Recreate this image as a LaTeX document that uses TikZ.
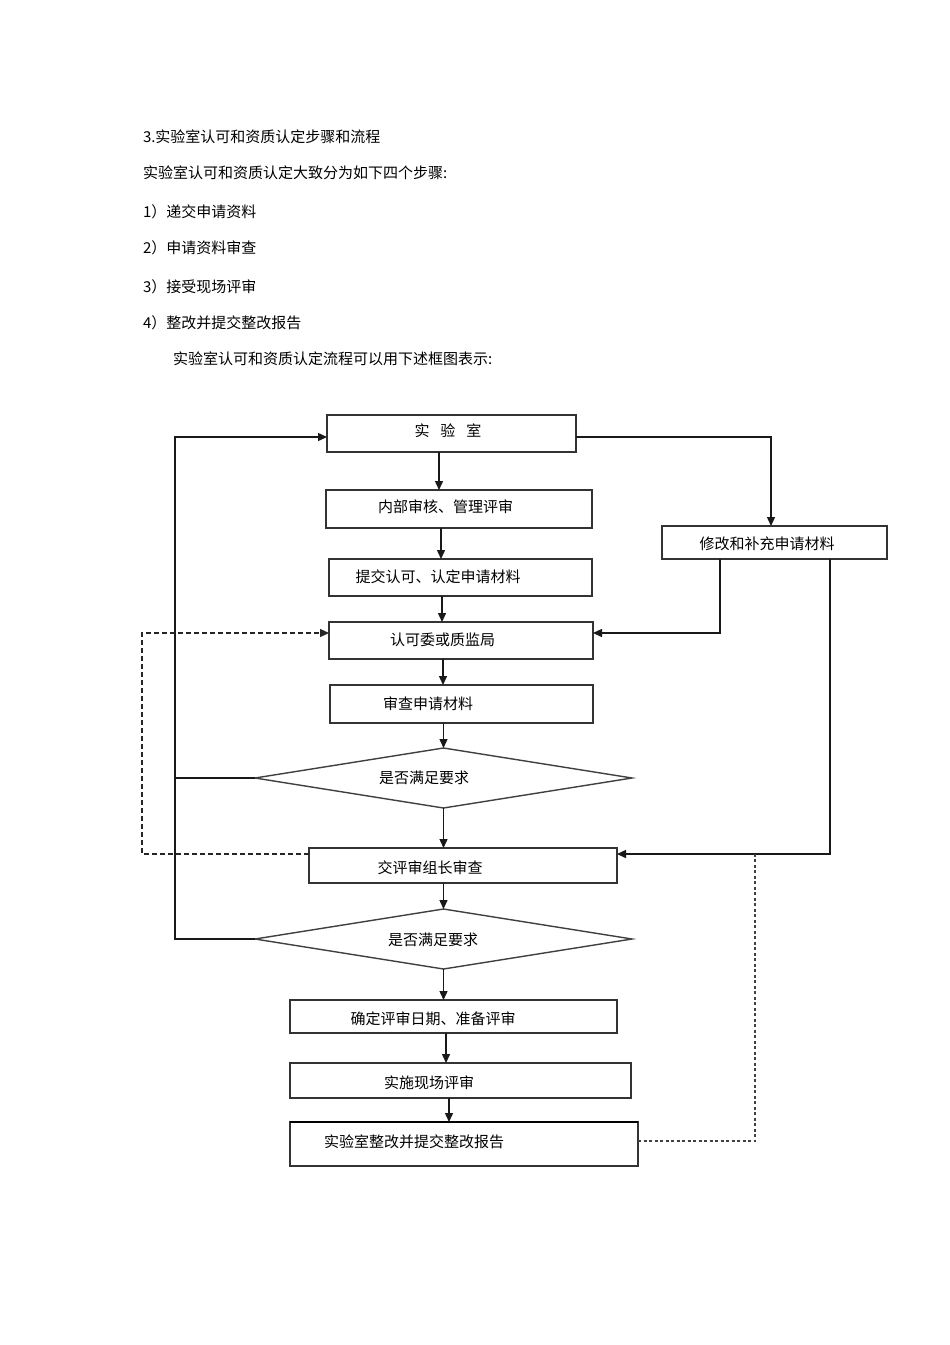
\documentclass[tikz,border=0pt]{standalone}
\usepackage{fontspec}
\newfontfamily\cjk{Noto Sans CJK SC}
\usetikzlibrary{arrows.meta,shapes.geometric}
\begin{document}
\begin{tikzpicture}[x=1pt,y=-1pt,
  every node/.style={font=\cjk\fontsize{15}{18}\selectfont, inner sep=0pt, outer sep=0pt, text=black},
  box/.style={draw=black!80, line width=1.4pt, rectangle},
  dia/.style={draw=black!75, line width=1.4pt, shape=diamond},
  conn/.style={draw=black!90, line width=1.4pt},
  tip/.style={-{Triangle[length=9pt,width=8pt]}},
  arr/.style={conn, tip},
  dsh/.style={draw=black!85, line width=1.3pt, dash pattern=on 5pt off 3pt},
  dotl/.style={draw=black!75, line width=1.2pt, dash pattern=on 3pt off 2.5pt},
  txt/.style={anchor=west}]
\fill[white] (0,0) rectangle (950,1345);
\useasboundingbox (0,0) rectangle (950,1345);

% heading text
\node[txt] (h1) at (143,137) {3.实验室认可和资质认定步骤和流程};
\node[txt] (h2) at (143,173) {实验室认可和资质认定大致分为如下四个步骤:};
\node[txt] (h3) at (143,212) {1）递交申请资料};
\node[txt] (h4) at (143,248) {2）申请资料审查};
\node[txt] (h5) at (143,287) {3）接受现场评审};
\node[txt] (h6) at (143,323) {4）整改并提交整改报告};
\node[txt] (h7) at (173,359) {实验室认可和资质认定流程可以用下述框图表示:};

% boxes
\node[box, minimum width=249pt, minimum height=37pt] (lab) at (451.5,433.5) {};
\node[box, minimum width=266pt, minimum height=38pt] (nb) at (459,509) {};
\node[box, minimum width=263pt, minimum height=37pt] (tj) at (460.5,577.5) {};
\node[box, minimum width=264pt, minimum height=37pt] (rk) at (461,640.5) {};
\node[box, minimum width=263pt, minimum height=38pt] (sc) at (461.5,704) {};
\node[dia, minimum width=377pt, minimum height=60pt] (d1) at (443.5,778) {};
\node[box, minimum width=308pt, minimum height=35pt] (jps) at (463,865.5) {};
\node[dia, minimum width=377pt, minimum height=60pt] (d2) at (443.5,939) {};
\node[box, minimum width=327pt, minimum height=33pt] (qd) at (453.5,1016.5) {};
\node[box, minimum width=341pt, minimum height=35pt] (ss) at (460.5,1080.5) {};
\node[box, minimum width=348pt, minimum height=44pt] (zg) at (464,1144) {};
\draw[black, line width=2.2pt] (zg.north west) -- (zg.north east);
\node[box, minimum width=225pt, minimum height=33pt] (xg) at (774.5,542.5) {};

% labels
\node (l1) at (448,431) {实\hspace{11pt}验\hspace{11pt}室};
\node (l2) at (445.5,507) {内部审核、管理评审};
\node (l3) at (438,577) {提交认可、认定申请材料};
\node (l4) at (442.5,640) {认可委或质监局};
\node (l5) at (428,704) {审查申请材料};
\node (l6) at (424,778) {是否满足要求};
\node (l7) at (430,868) {交评审组长审查};
\node (l8) at (433,940) {是否满足要求};
\node (l9) at (433,1019) {确定评审日期、准备评审};
\node (l10) at (429,1083) {实施现场评审};
\node (l11) at (414,1142) {实验室整改并提交整改报告};
\node (l12) at (767,544) {修改和补充申请材料};

% helper coordinates
\coordinate (v1) at (439,0);
\coordinate (v2) at (441,0);
\coordinate (v3) at (442,0);
\coordinate (v4) at (443,0);
\coordinate (v9) at (446,0);
\coordinate (v10) at (449,0);
\coordinate (lp) at (175,0);
\coordinate (dl) at (142,0);
\coordinate (rx) at (771,0);
\coordinate (r2) at (720,0);
\coordinate (r3) at (830,0);
\coordinate (r4) at (755,0);
\coordinate (ytop) at (0,437);
\coordinate (yrk) at (0,633);
\coordinate (yjp) at (0,854);
\coordinate (yzg) at (0,1141);

% main spine
\draw[arr] (lab.south -| v1) -- (nb.north -| v1);
\draw[arr] (nb.south -| v2) -- (tj.north -| v2);
\draw[arr] (tj.south -| v3) -- (rk.north -| v3);
\draw[arr] (rk.south -| v4) -- (sc.north -| v4);
\draw[arr] (sc.south -| d1.north) -- (d1.north);
\draw[arr] (d1.south) -- (d1.south |- jps.north);
\draw[arr] (d2.north |- jps.south) -- (d2.north);
\draw[arr] (d2.south) -- (d2.south |- qd.north);
\draw[arr] (qd.south -| v9) -- (ss.north -| v9);
\draw[arr] (ss.south -| v10) -- (zg.north -| v10);

% left feedback loop
\draw[conn] (d1.west) -- (d1.west -| lp);
\draw[arr] (d2.west) -- (d2.west -| lp) -- (lp |- ytop) -- (lab.west |- ytop);

% left dashed
\draw[dsh, tip] (jps.west |- yjp) -- (dl |- yjp) -- (dl |- yrk) -- (rk.west |- yrk);

% right side
\draw[arr] (lab.east |- ytop) -- (rx |- ytop) -- (xg.north -| rx);
\draw[arr] (xg.south -| r2) -- (r2 |- yrk) -- (rk.east |- yrk);
\draw[arr] (xg.south -| r3) -- (r3 |- yjp) -- (jps.east |- yjp);

% right dotted
\draw[dotl] (zg.east |- yzg) -- (r4 |- yzg) -- (r4 |- yjp);
\end{tikzpicture}
\end{document}
